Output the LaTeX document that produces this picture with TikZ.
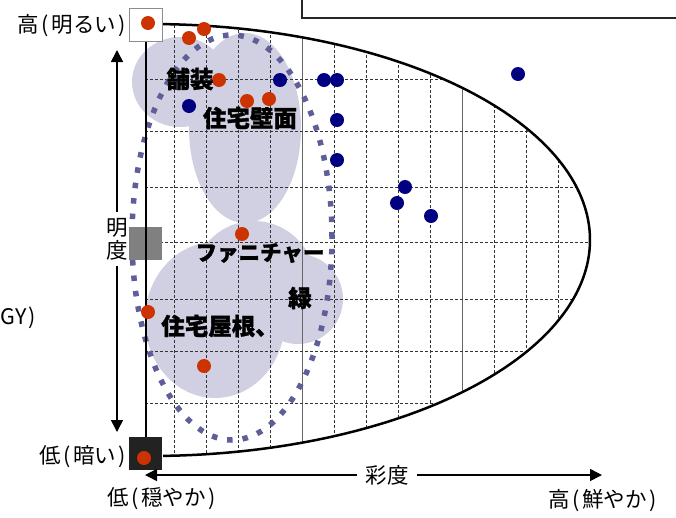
\documentclass[tikz,border=0pt]{standalone}
\usepackage{fontspec}
\setmainfont{Noto Sans CJK JP}[BoldFeatures={FakeBold=1.2}]
\usetikzlibrary{arrows.meta}
\definecolor{dotred}{HTML}{CC3300}
\definecolor{dotblue}{HTML}{000080}
\definecolor{blobc}{HTML}{D0D0E2}
\definecolor{ringc}{HTML}{5E5E98}
\definecolor{midgray}{HTML}{808080}
\definecolor{darkbox}{HTML}{222222}
\newcommand\lpar{\kern2.5pt(\kern2.5pt}
\newcommand\rpar{\kern2.5pt)}
\begin{document}
\begin{tikzpicture}[x=1pt,y=-1pt,
  dotr/.style={circle,fill=dotred,minimum size=14pt,inner sep=0pt},
  dotb/.style={circle,fill=dotblue,minimum size=14pt,inner sep=0pt},
  sqbox/.style={minimum size=33pt,inner sep=0pt,outer sep=0pt},
  lbl/.style={font=\fontsize{21.5}{23}\selectfont,inner sep=0pt},
  tag/.style={font=\fontsize{23.5}{25}\selectfont\bfseries,inner sep=0pt},
  tagk/.style={font=\fontsize{21.5}{25}\selectfont\bfseries,inner sep=0pt},
  gridd/.style={draw=black!80,line width=0.9pt,dash pattern=on 3pt off 2pt},
  grids/.style={draw=black!60,line width=1pt},
  ring/.style={draw=ringc,line width=5.5pt,dash pattern=on 5.5pt off 10pt},
  outl/.style={draw=black,line width=2.5pt},
  arr/.style={-{Triangle[length=12pt,width=12pt]},line width=1.5pt},
  blob/.style={fill=blobc}]
\useasboundingbox (0,0) rectangle (676,517);
% top-right frame
\draw[line width=1.3pt,draw=black!85] (302,-10) rectangle (690,18);
% blobs
\fill[blob] (180,82) ellipse [x radius=48pt, y radius=45pt];
\fill[blob] (245,128) ellipse [x radius=56pt, y radius=95pt];
\fill[blob] (254,282) circle [radius=61pt];
\fill[blob] (215,320) ellipse [x radius=70pt, y radius=78pt];
\fill[blob] (298,299) circle [radius=45pt];
% grid
\begin{scope}
\clip (145,24) -- plot[smooth,domain=88.3:-88.3,samples=90] ({150+440*cos(\x)},{240-216*sin(\x)}) -- (145,455) -- cycle;
\foreach \k in {1,2,3,4,6,7,8,9,11,12,13}{
  \draw[gridd] ({142+32*\k},0) -- ({142+32*\k},517);
}
\foreach \k in {5,10}{
  \draw[grids] ({142+32*\k},0) -- ({142+32*\k},517);
}
\foreach \y in {79,131,187,242.5,299,351,403}{
  \draw[gridd] (145,\y) -- (676,\y);
}
\end{scope}
% outline of colour space
\draw[outl] plot[smooth,domain=88.3:-88.3,samples=90] ({150+440*cos(\x)},{240-216*sin(\x)});
% dotted ring
\draw[ring] (232,237.5) ellipse [x radius=100pt, y radius=202.5pt];
% lightness boxes and axis
\node[sqbox,fill=white,draw=black!45,line width=0.8pt] (topbox) at (145.5,25) {};
\node[sqbox,fill=midgray] (midbox) at (145.5,243.5) {};
\node[sqbox,fill=darkbox] (botbox) at (145.5,453) {};
\draw[line width=2pt] (topbox.south) -- (botbox.north);
% dots
\node[dotr] (r1) at (148,23) {};
\node[dotr] (r2) at (189,38) {};
\node[dotr] (r3) at (204,29) {};
\node[dotr] (r4) at (219,80) {};
\node[dotr] (r5) at (247,101) {};
\node[dotr] (r6) at (269,99) {};
\node[dotr] (r7) at (242,234) {};
\node[dotr] (r8) at (148,312) {};
\node[dotr] (r9) at (204,366) {};
\node[dotr] (r10) at (144,458) {};
\node[dotb] (b1) at (189,106) {};
\node[dotb] (b2) at (280,80) {};
\node[dotb] (b3) at (324,80) {};
\node[dotb] (b4) at (337,80) {};
\node[dotb] (b5) at (337,120) {};
\node[dotb] (b6) at (337,160) {};
\node[dotb] (b7) at (405,187) {};
\node[dotb] (b8) at (397,203) {};
\node[dotb] (b9) at (431,216) {};
\node[dotb] (b10) at (518,74) {};
% category labels
\node[tag] (t1) at (190,79) {舗装};
\node[tag] (t2) at (250,118) {住宅壁面};
\node[tagk] (t3) at (260,253) {ファニチャー};
\node[tag] (t4) at (300,298) {緑};
\node[tag] (t5) at (220,326) {住宅屋根、};
% axis labels
\node[lbl,anchor=east] (hi) at (126,26) {高\lpar 明るい\rpar};
\node[lbl,anchor=east] (lo) at (126,457) {低\lpar 暗い\rpar};
\node[lbl,anchor=west] (gy) at (0,318) {GY\rpar};
\node[lbl] (lox) at (161.5,499) {低\lpar 穏やか\rpar};
\node[lbl] (hix) at (602.5,501) {高\lpar 鮮やか\rpar};
% lightness arrow
\node[lbl,fill=white,inner ysep=6pt,align=center] (mdo) at (117,239) {明\\度};
\coordinate (vtop) at (117,50);
\coordinate (vbot) at (117,432);
\draw[arr] (mdo.north) -- (vtop);
\draw[arr] (mdo.south) -- (vbot);
% chroma arrow
\node[lbl,fill=white,inner xsep=8pt,inner ysep=2pt] (sdo) at (387,475) {彩度};
\coordinate (hl) at (145,475);
\coordinate (hr) at (602,475);
\draw[arr] (sdo.west) -- (hl);
\draw[arr] (sdo.east) -- (hr);
\end{tikzpicture}
\end{document}
